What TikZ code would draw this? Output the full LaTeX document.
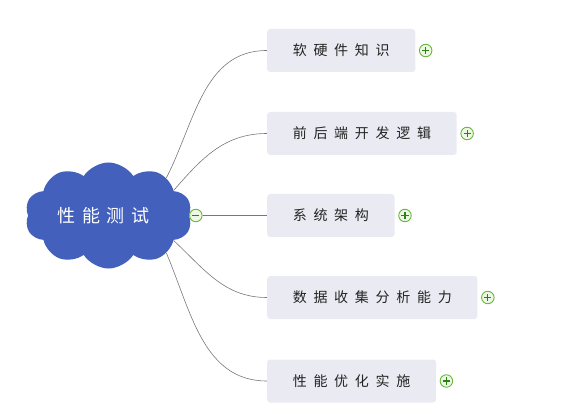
\documentclass[tikz,border=0pt]{standalone}
\usepackage{fontspec}
\newfontfamily\cjkfont[LetterSpace=48]{Noto Sans CJK SC}
\newfontfamily\cjkroot[LetterSpace=36]{Noto Sans CJK SC}
\usetikzlibrary{shapes.symbols,positioning,backgrounds}

\begin{document}
\begin{tikzpicture}[x=1pt,y=1pt,
    topic/.style={fill=topicfill, rounded corners=3pt, minimum height=43pt,
      inner xsep=25.6pt, inner ysep=0pt, anchor=west, text=topictext,
      font=\cjkfont\fontsize{14}{14}\selectfont},
    togglemark/.style={circle, draw=togglegreen, line width=0.9pt, fill=togglefill,
      minimum size=12.5pt, inner sep=0pt},
    plusmark/.style={togglemark, path picture={
      \draw[signgreen, line width=1.1pt]
        ([xshift=-3.6pt]path picture bounding box.center) -- ++(7.2pt,0pt)
        ([yshift=-3.6pt]path picture bounding box.center) -- ++(0pt,7.2pt);}},
    minusmark/.style={togglemark, path picture={
      \draw[signgreen, line width=1.1pt]
        ([xshift=-3.6pt]path picture bounding box.center) -- ++(7.2pt,0pt);}},
    branch/.style={draw=branchgray, line width=0.6pt}]
    % Define colors
    \definecolor{cloudblue}{RGB}{66,96,188}
    \definecolor{topicfill}{RGB}{234,234,242}
    \definecolor{topictext}{RGB}{35,35,35}
    \definecolor{togglegreen}{RGB}{104,182,58}
    \definecolor{togglefill}{RGB}{236,248,228}
    \definecolor{signgreen}{RGB}{40,130,20}
    \definecolor{branchgray}{RGB}{120,120,120}

    \useasboundingbox (0,0) rectangle (570,418);

    % Central cloud
    \node[cloud, cloud puffs=10, cloud puff arc=115, cloud ignores aspect,
      minimum width=167pt, minimum height=106pt, inner sep=0pt,
      fill=cloudblue, text=white, font=\cjkroot\fontsize{18}{18}\selectfont]
      (root) at (108.5,202.5) {性能测试\hspace*{10pt}};
    \node[minusmark, right=0pt of root] (rootminus) {};

    % Topics
    \node[topic] (knowledge) at (267,367.5) {软硬件知识};
    \node[topic] (logic) at (267,284.5) {前后端开发逻辑};
    \node[topic] (arch) at (267,202.5) {系统架构};
    \node[topic] (data) at (267,120.5) {数据收集分析能力};
    \node[topic] (tuning) at (267,37) {性能优化实施};

    % Expand marks
    \node[plusmark, right=3.5pt of knowledge] (knowledgeplus) {};
    \node[plusmark, right=3.5pt of logic] (logicplus) {};
    \node[plusmark, right=3.5pt of arch] (archplus) {};
    \node[plusmark, right=3.5pt of data] (dataplus) {};
    \node[plusmark, right=3.5pt of tuning] (tuningplus) {};

    % Branches
    \begin{pgfonlayer}{background}
      \draw[branch] (root.33) to[out=63,in=180] (knowledge.west);
      \draw[branch] (root.21) to[out=49,in=180] (logic.west);
      \draw[branch] (rootminus) -- (arch.west);
      \draw[branch] (root.-21) to[out=-43,in=180] (data.west);
      \draw[branch] (root.-33) to[out=-67,in=180] (tuning.west);
    \end{pgfonlayer}
\end{tikzpicture}
\end{document}
